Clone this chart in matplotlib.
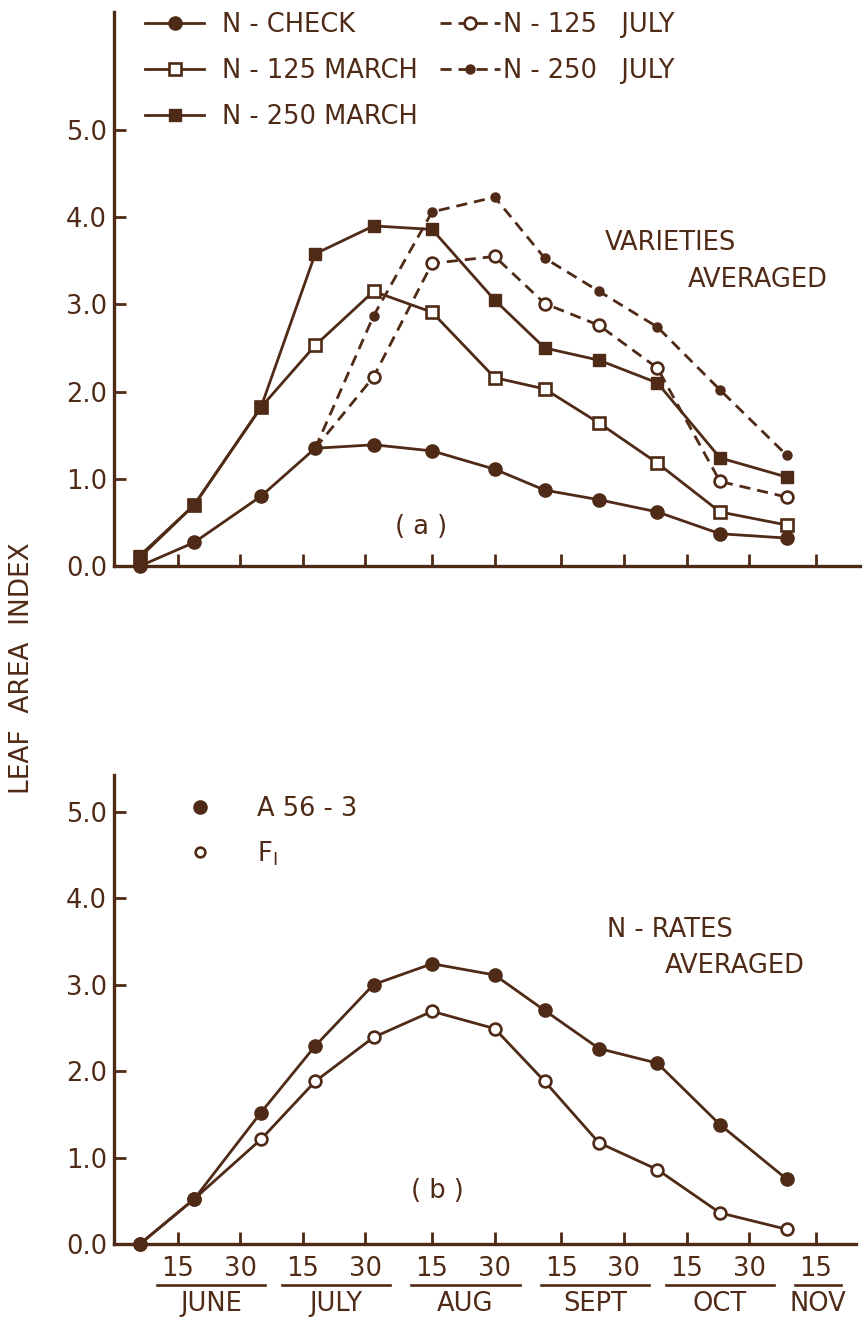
import matplotlib
matplotlib.use('Agg')
import matplotlib.pyplot as plt
import matplotlib.transforms as mtransforms
from matplotlib.lines import Line2D

plt.rcParams['font.family'] = ['DejaVu Sans']
plt.rcParams['lines.scale_dashes'] = False

C = '#4f2a16'
W, H = 864, 1321

# ---------------- data ----------------
# sampling dates, in days after May 31 (June 15 = 15, Nov 15 = 168)
days = [6, 19, 35, 48, 62, 76, 91, 103, 116, 130, 145, 161]
july_days = days[3:]          # July-applied treatments start at the 4th date

# (a) varieties averaged
n_check      = [0.00, 0.27, 0.80, 1.35, 1.39, 1.32, 1.11, 0.87, 0.76, 0.62, 0.37, 0.32]
n125_march   = [0.10, 0.70, 1.82, 2.53, 3.15, 2.91, 2.16, 2.03, 1.64, 1.18, 0.62, 0.47]
n250_march   = [0.12, 0.70, 1.82, 3.58, 3.90, 3.86, 3.05, 2.50, 2.36, 2.10, 1.24, 1.02]
n125_july    = [1.35, 2.17, 3.47, 3.55, 3.01, 2.76, 2.27, 0.97, 0.79]
n250_july    = [1.35, 2.87, 4.06, 4.23, 3.53, 3.15, 2.74, 2.02, 1.27]

# (b) N-rates averaged
a56_3 = [0.00, 0.52, 1.52, 2.29, 3.00, 3.24, 3.11, 2.70, 2.26, 2.09, 1.38, 0.75]
f1    = [0.00, 0.52, 1.21, 1.88, 2.39, 2.69, 2.49, 1.88, 1.17, 0.86, 0.36, 0.17]

y_ticks = [0, 1, 2, 3, 4, 5]
y_labels = ['0.0', '1.0', '2.0', '3.0', '4.0', '5.0']
x_tick_days = [15, 30, 45, 60, 76, 91, 107, 122, 137, 152, 168]
x_tick_labels = ['15', '30', '15', '30', '15', '30', '15', '30', '15', '30', '15']
months = ['JUNE', 'JULY', 'AUG', 'SEPT', 'OCT', 'NOV']
month_spans = [(15, 30), (45, 60), (76, 91), (107, 122), (137, 152), (168, 168)]

# ---------------- figure ----------------
fig = plt.figure(figsize=(W / 100, H / 100), dpi=100)
fig.patch.set_facecolor('white')

def fpos(px, py):
    return px / W, 1 - py / H

ax1 = fig.add_axes([114 / W, 1 - 566 / H, (860 - 114) / W, (566 - 12) / H])
ax2 = fig.add_axes([114 / W, 1 - 1244 / H, (856 - 114) / W, (1244 - 775) / H])

FS = 18.5
for ax in (ax1, ax2):
    for s in ('top', 'right'):
        ax.spines[s].set_visible(False)
    for s in ('left', 'bottom'):
        ax.spines[s].set_linewidth(2.4)
        ax.spines[s].set_color(C)
    ax.set_facecolor('none')
    ax.set_yticks(y_ticks)
    ax.set_yticklabels(y_labels)
    ax.set_xticks(x_tick_days)
    ax.tick_params(axis='both', direction='in', length=8.5, width=2.0,
                   color=C, labelcolor=C, labelsize=FS)
    ax.tick_params(axis='y', pad=5)

ax1.set_xlim(-0.22, 178.55)
ax1.set_ylim(0, 6.353)
ax1.set_xticklabels([])
ax2.set_xlim(-0.22, 177.6)
ax2.set_ylim(0, 5.422)
ax2.set_xticklabels(x_tick_labels)
ax2.tick_params(axis='x', pad=9)

LW = 2.0
DASH = (0, (8, 5))
kw = dict(color=C, lw=LW, clip_on=False)

h125m, = ax1.plot(days, n125_march, marker='s', ms=8, mfc='white', mec=C, mew=1.9,
                  label='N - 125 MARCH', zorder=3, **kw)
h125j, = ax1.plot(july_days, n125_july, ls=DASH, marker='o', ms=8.5, mfc='white', mec=C,
                  mew=1.9, markevery=list(range(1, len(july_days))),
                  label='N - 125   JULY', zorder=3, **kw)
h250j, = ax1.plot(july_days, n250_july, ls=DASH, marker='o', ms=6.5, mfc=C, mec=C,
                  markevery=list(range(1, len(july_days))),
                  label='N - 250   JULY', zorder=4, **kw)
hchk, = ax1.plot(days, n_check, marker='o', ms=9.5, mfc=C, mec=C,
                 label='N - CHECK', zorder=5, **kw)
h250m, = ax1.plot(days, n250_march, marker='s', ms=9, mfc=C, mec=C,
                  label='N - 250 MARCH', zorder=5, **kw)

ax2.plot(days, f1, marker='o', ms=8.5, mfc='white', mec=C, mew=1.9, zorder=3, **kw)
ax2.plot(days, a56_3, marker='o', ms=9.5, mfc=C, mec=C, zorder=4, **kw)

# legends (a)
leg1 = ax1.legend(handles=[hchk, h125m, h250m], loc='upper left',
                  bbox_to_anchor=fpos(145, 12), bbox_transform=fig.transFigure,
                  frameon=False, fontsize=FS, handlelength=2.3, handletextpad=0.7,
                  labelspacing=0.78, borderpad=0, borderaxespad=0, labelcolor=C)
ax1.add_artist(leg1)
leg2 = ax1.legend(handles=[h125j, h250j], loc='upper left',
                  bbox_to_anchor=fpos(440, 12), bbox_transform=fig.transFigure,
                  frameon=False, fontsize=FS, handlelength=2.35, handletextpad=0.12,
                  labelspacing=0.78, borderpad=0, borderaxespad=0, labelcolor=C)

# legend (b)
hA = Line2D([], [], ls='none', marker='o', ms=9.5, mfc=C, mec=C)
hF = Line2D([], [], ls='none', marker='o', ms=7, mfc='white', mec=C, mew=1.9)
leg3 = ax2.legend(handles=[hA, hF], labels=['A 56 - 3', r'F$_\mathregular{I}$'],
                  loc='upper left', bbox_to_anchor=fpos(182, 796),
                  bbox_transform=fig.transFigure, frameon=False, fontsize=FS,
                  handlelength=1.4, handletextpad=1.5, labelspacing=0.68,
                  borderpad=0, borderaxespad=0, labelcolor=C)

tk = dict(color=C, fontsize=FS)
fig.text(*fpos(605, 243), 'VARIETIES', ha='left', va='center', **tk)
fig.text(*fpos(688, 280), 'AVERAGED', ha='left', va='center', **tk)
fig.text(*fpos(421, 527), '( a )', ha='center', va='center', **tk)
fig.text(*fpos(607, 930), 'N - RATES', ha='left', va='center', **tk)
fig.text(*fpos(665, 966), 'AVERAGED', ha='left', va='center', **tk)
fig.text(*fpos(437, 1191), '( b )', ha='center', va='center', **tk)
fig.text(*fpos(22, 668), 'LEAF  AREA  INDEX', rotation=90, ha='center', va='center',
         color=C, fontsize=19)

# month labels with underlines below the bottom axis
bt = mtransforms.blended_transform_factory(ax2.transData, fig.transFigure)
for name, (d0, d1) in zip(months, month_spans):
    a, b = d0 - 5, d1 + 6
    ax2.add_line(Line2D([a, b], [1 - 1285 / H] * 2, transform=bt, color=C,
                        lw=1.9, clip_on=False))
    ax2.text((a + b) / 2, 1 - 1304 / H, name, transform=bt, ha='center',
             va='center', clip_on=False, **tk)

fig.savefig('out.png', dpi=100, facecolor='white')
